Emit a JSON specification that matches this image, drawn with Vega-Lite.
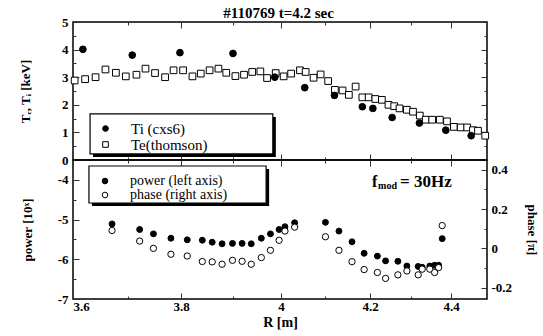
{
  "$schema": "https://vega.github.io/schema/vega-lite/v6.json",
  "padding": {"left": 18, "top": 6, "right": 0, "bottom": 0},
  "background": "white",
  "title": {"text": "#110769 t=4.2 sec", "anchor": "middle", "font": "Liberation Serif", "fontSize": 15, "fontWeight": "bold", "color": "black", "offset": -6},
  "spacing": 0,
  "bounds": "flush",
  "config": {
    "view": {"stroke": "black", "strokeWidth": 1.5},
    "axis": {"grid": false, "domain": false, "tickColor": "#333", "tickWidth": 1, "labelFont": "Liberation Serif", "labelFontWeight": "bold", "labelFontSize": 13, "labelColor": "black", "titleFont": "Liberation Serif", "titleFontWeight": "bold", "titleFontSize": 13, "titleColor": "black"},
    "legend": {"labelFont": "Liberation Serif", "labelFontSize": 15, "labelColor": "black", "symbolStrokeColor": "black", "symbolStrokeWidth": 1, "symbolSize": 32, "padding": 0, "rowPadding": 1, "symbolOffset": 0, "labelOffset": 18}
  },
  "datasets": {
    "temp": [
      {"R": 3.603, "T": 2.88, "series": "Te(thomson)"},
      {"R": 3.622, "T": 2.93, "series": "Te(thomson)"},
      {"R": 3.641, "T": 3.00, "series": "Te(thomson)"},
      {"R": 3.659, "T": 3.28, "series": "Te(thomson)"},
      {"R": 3.678, "T": 3.16, "series": "Te(thomson)"},
      {"R": 3.696, "T": 3.03, "series": "Te(thomson)"},
      {"R": 3.716, "T": 3.09, "series": "Te(thomson)"},
      {"R": 3.733, "T": 3.31, "series": "Te(thomson)"},
      {"R": 3.751, "T": 3.15, "series": "Te(thomson)"},
      {"R": 3.770, "T": 3.00, "series": "Te(thomson)"},
      {"R": 3.786, "T": 3.25, "series": "Te(thomson)"},
      {"R": 3.804, "T": 3.25, "series": "Te(thomson)"},
      {"R": 3.822, "T": 3.03, "series": "Te(thomson)"},
      {"R": 3.838, "T": 3.13, "series": "Te(thomson)"},
      {"R": 3.855, "T": 3.25, "series": "Te(thomson)"},
      {"R": 3.872, "T": 3.31, "series": "Te(thomson)"},
      {"R": 3.887, "T": 3.16, "series": "Te(thomson)"},
      {"R": 3.905, "T": 3.04, "series": "Te(thomson)"},
      {"R": 3.923, "T": 3.09, "series": "Te(thomson)"},
      {"R": 3.940, "T": 3.19, "series": "Te(thomson)"},
      {"R": 3.957, "T": 3.21, "series": "Te(thomson)"},
      {"R": 3.971, "T": 2.97, "series": "Te(thomson)"},
      {"R": 3.989, "T": 3.15, "series": "Te(thomson)"},
      {"R": 4.006, "T": 3.03, "series": "Te(thomson)"},
      {"R": 4.023, "T": 3.13, "series": "Te(thomson)"},
      {"R": 4.043, "T": 3.25, "series": "Te(thomson)"},
      {"R": 4.056, "T": 3.19, "series": "Te(thomson)"},
      {"R": 4.074, "T": 2.98, "series": "Te(thomson)"},
      {"R": 4.090, "T": 3.10, "series": "Te(thomson)"},
      {"R": 4.107, "T": 2.86, "series": "Te(thomson)"},
      {"R": 4.122, "T": 2.54, "series": "Te(thomson)"},
      {"R": 4.139, "T": 2.52, "series": "Te(thomson)"},
      {"R": 4.153, "T": 2.36, "series": "Te(thomson)"},
      {"R": 4.168, "T": 2.66, "series": "Te(thomson)"},
      {"R": 4.183, "T": 2.27, "series": "Te(thomson)"},
      {"R": 4.197, "T": 2.27, "series": "Te(thomson)"},
      {"R": 4.213, "T": 2.21, "series": "Te(thomson)"},
      {"R": 4.229, "T": 2.18, "series": "Te(thomson)"},
      {"R": 4.245, "T": 2.00, "series": "Te(thomson)"},
      {"R": 4.259, "T": 1.95, "series": "Te(thomson)"},
      {"R": 4.272, "T": 1.87, "series": "Te(thomson)"},
      {"R": 4.290, "T": 1.82, "series": "Te(thomson)"},
      {"R": 4.305, "T": 1.75, "series": "Te(thomson)"},
      {"R": 4.322, "T": 1.61, "series": "Te(thomson)"},
      {"R": 4.337, "T": 1.46, "series": "Te(thomson)"},
      {"R": 4.353, "T": 1.46, "series": "Te(thomson)"},
      {"R": 4.372, "T": 1.46, "series": "Te(thomson)"},
      {"R": 4.390, "T": 1.40, "series": "Te(thomson)"},
      {"R": 4.408, "T": 1.20, "series": "Te(thomson)"},
      {"R": 4.427, "T": 1.18, "series": "Te(thomson)"},
      {"R": 4.445, "T": 1.18, "series": "Te(thomson)"},
      {"R": 4.461, "T": 1.08, "series": "Te(thomson)"},
      {"R": 4.475, "T": 1.06, "series": "Te(thomson)"},
      {"R": 4.495, "T": 0.88, "series": "Te(thomson)"},
      {"R": 3.618, "T": 4.01, "series": "Ti (cxs6)"},
      {"R": 3.708, "T": 3.80, "series": "Ti (cxs6)"},
      {"R": 3.798, "T": 3.89, "series": "Ti (cxs6)"},
      {"R": 3.900, "T": 3.86, "series": "Ti (cxs6)"},
      {"R": 3.987, "T": 3.00, "series": "Ti (cxs6)"},
      {"R": 4.054, "T": 2.62, "series": "Ti (cxs6)"},
      {"R": 4.121, "T": 2.34, "series": "Ti (cxs6)"},
      {"R": 4.183, "T": 1.93, "series": "Ti (cxs6)"},
      {"R": 4.207, "T": 1.87, "series": "Ti (cxs6)"},
      {"R": 4.254, "T": 1.54, "series": "Ti (cxs6)"},
      {"R": 4.321, "T": 1.34, "series": "Ti (cxs6)"},
      {"R": 4.387, "T": 1.08, "series": "Ti (cxs6)"},
      {"R": 4.456, "T": 0.88, "series": "Ti (cxs6)"}
    ],
    "mod": [
      {"R": 3.671, "power": -5.11, "phase": 0.091},
      {"R": 3.722, "power": -5.25, "phase": 0.037},
      {"R": 3.748, "power": -5.36, "phase": 0.000},
      {"R": 3.781, "power": -5.47, "phase": -0.030},
      {"R": 3.812, "power": -5.51, "phase": -0.039},
      {"R": 3.841, "power": -5.52, "phase": -0.067},
      {"R": 3.860, "power": -5.57, "phase": -0.069},
      {"R": 3.879, "power": -5.61, "phase": -0.081},
      {"R": 3.899, "power": -5.60, "phase": -0.061},
      {"R": 3.919, "power": -5.60, "phase": -0.066},
      {"R": 3.938, "power": -5.61, "phase": -0.081},
      {"R": 3.959, "power": -5.47, "phase": -0.047},
      {"R": 3.978, "power": -5.36, "phase": -0.010},
      {"R": 3.996, "power": -5.25, "phase": 0.041},
      {"R": 4.009, "power": -5.18, "phase": 0.088},
      {"R": 4.031, "power": -5.08, "phase": 0.108},
      {"R": 4.101, "power": -5.07, "phase": 0.059},
      {"R": 4.131, "power": -5.29, "phase": -0.010},
      {"R": 4.160, "power": -5.56, "phase": -0.068},
      {"R": 4.187, "power": -5.85, "phase": -0.108},
      {"R": 4.218, "power": -5.92, "phase": -0.123},
      {"R": 4.238, "power": -6.04, "phase": -0.153},
      {"R": 4.268, "power": -6.05, "phase": -0.135},
      {"R": 4.290, "power": -6.17, "phase": -0.115},
      {"R": 4.318, "power": -6.18, "phase": -0.135},
      {"R": 4.328, "power": -6.20, "phase": -0.106},
      {"R": 4.347, "power": -6.17, "phase": -0.106},
      {"R": 4.359, "power": -6.15, "phase": -0.123},
      {"R": 4.369, "power": -6.15, "phase": -0.098},
      {"R": 4.378, "power": -5.48, "phase": 0.116}
    ],
    "note": [
      {"R": 4.205, "phase": 0.339}
    ],
    "tbox": [
      {"R1": 3.631, "R2": 3.983, "T1": 0.22, "T2": 1.67}
    ],
    "pbox": [
      {"R1": 3.629, "R2": 3.969, "P1": -4.583, "P2": -3.651}
    ]
  },
  "resolve": {"scale": {"fill": "independent", "shape": "independent", "stroke": "independent", "x": "independent"}, "legend": {"fill": "independent", "shape": "independent", "stroke": "independent"}},
  "vconcat": [
    {
      "width": 414,
      "height": 138,
      "layer": [
        {
          "data": {"name": "tbox"},
          "mark": {"type": "rect", "fill": "black", "xOffset": 3, "x2Offset": 3, "yOffset": 3, "y2Offset": 3},
          "encoding": {
            "x": {"field": "R1", "type": "quantitative", "axis": null}, "x2": {"field": "R2"},
            "y": {"field": "T1", "type": "quantitative", "axis": null}, "y2": {"field": "T2"}
          }
        },
        {
          "data": {"name": "tbox"},
          "mark": {"type": "rect", "fill": "white", "stroke": "black", "strokeWidth": 1.2},
          "encoding": {
            "x": {"field": "R1", "type": "quantitative", "axis": null}, "x2": {"field": "R2"},
            "y": {"field": "T1", "type": "quantitative", "axis": null}, "y2": {"field": "T2"}
          }
        },
        {
          "data": {"name": "temp"},
          "mark": {"type": "point", "strokeWidth": 1, "opacity": 1, "size": 45},
          "encoding": {
            "x": {"field": "R", "type": "quantitative",
              "scale": {"domain": [3.6, 3.7, 3.8, 3.9, 4.0, 4.1, 4.2, 4.3, 4.4, 4.5], "range": [0, 55, 108, 160, 208, 252, 297, 338, 378, 414], "nice": false, "zero": false},
              "axis": {"orient": "bottom", "title": null, "labels": false, "values": [3.6, 3.7, 3.8, 3.9, 4.0, 4.1, 4.2, 4.3, 4.4],
                "tickSize": {"condition": {"test": "abs(datum.value*5 - round(datum.value*5)) < 0.001", "value": -6}, "value": -3}}},
            "y": {"field": "T", "type": "quantitative",
              "scale": {"domain": [0, 5], "nice": false, "zero": false},
              "axis": {"orient": "left", "title": "Tₑ, Tᵢ [keV]", "titlePadding": 29, "values": [0, 0.5, 1, 1.5, 2, 2.5, 3, 3.5, 4, 4.5, 5],
                "labelExpr": "datum.value % 1 == 0 ? '' + datum.value : ''", "labelPadding": 11,
                "tickSize": {"condition": {"test": "datum.value % 1 == 0", "value": -6}, "value": -3}}},
            "shape": {"field": "series", "type": "nominal", "scale": {"domain": ["Ti (cxs6)", "Te(thomson)"], "range": ["circle", "square"]},
              "legend": {"title": null, "orient": "none", "legendX": 25, "legendY": 99, "rowPadding": -1}},
            "fill": {"field": "series", "type": "nominal", "scale": {"domain": ["Ti (cxs6)", "Te(thomson)"], "range": ["black", "white"]},
              "legend": {"title": null, "orient": "none", "legendX": 25, "legendY": 99, "rowPadding": -1}},
            "stroke": {"field": "series", "type": "nominal", "scale": {"domain": ["Ti (cxs6)", "Te(thomson)"], "range": ["black", "black"]},
              "legend": {"title": null, "orient": "none", "legendX": 25, "legendY": 99, "rowPadding": -1}}
          }
        },
        {
          "data": {"name": "temp"},
          "mark": {"type": "point", "opacity": 0},
          "encoding": {
            "x": {"field": "R", "type": "quantitative",
              "axis": {"orient": "top", "title": null, "labels": false, "values": [3.6, 3.7, 3.8, 3.9, 4.0, 4.1, 4.2, 4.3, 4.4],
                "tickSize": {"condition": {"test": "abs(datum.value*5 - round(datum.value*5)) < 0.001", "value": -6}, "value": -3}}},
            "y": {"field": "T", "type": "quantitative",
              "axis": {"orient": "right", "title": null, "labels": false, "values": [0, 0.5, 1, 1.5, 2, 2.5, 3, 3.5, 4, 4.5, 5],
                "tickSize": {"condition": {"test": "datum.value % 1 == 0", "value": -6}, "value": -3}}}
          }
        }
      ],
      "resolve": {"axis": {"x": "independent", "y": "independent"}}
    },
    {
      "width": 414,
      "height": 139,
      "layer": [
        {
          "data": {"name": "pbox"},
          "mark": {"type": "rect", "fill": "black", "xOffset": 3, "x2Offset": 3, "yOffset": 3, "y2Offset": 3},
          "encoding": {
            "x": {"field": "R1", "type": "quantitative", "axis": null}, "x2": {"field": "R2"},
            "y": {"field": "P1", "type": "quantitative", "scale": {"domain": [-7, -3.5], "nice": false, "zero": false}, "axis": null}, "y2": {"field": "P2"}
          }
        },
        {
          "data": {"name": "pbox"},
          "mark": {"type": "rect", "fill": "white", "stroke": "black", "strokeWidth": 1.2},
          "encoding": {
            "x": {"field": "R1", "type": "quantitative", "axis": null}, "x2": {"field": "R2"},
            "y": {"field": "P1", "type": "quantitative", "scale": {"domain": [-7, -3.5], "nice": false, "zero": false}, "axis": null}, "y2": {"field": "P2"}
          }
        },
        {
          "data": {"name": "mod"},
          "mark": {"type": "point", "size": 35, "strokeWidth": 1, "opacity": 1},
          "encoding": {
            "x": {"field": "R", "type": "quantitative",
              "scale": {"domain": [3.6, 3.7, 3.8, 3.9, 4.0, 4.1, 4.2, 4.3, 4.4, 4.5], "range": [0, 55, 108, 160, 208, 252, 297, 338, 378, 414], "nice": false, "zero": false},
              "axis": {"orient": "bottom", "title": "R [m]", "titleFontSize": 14, "titlePadding": 2, "labelPadding": 7, "values": [3.6, 3.7, 3.8, 3.9, 4.0, 4.1, 4.2, 4.3, 4.4],
                "labelExpr": "abs(datum.value*5 - round(datum.value*5)) < 0.001 ? format(datum.value, '~g') : ''",
                "tickSize": {"condition": {"test": "abs(datum.value*5 - round(datum.value*5)) < 0.001", "value": -6}, "value": -3}}},
            "y": {"field": "power", "type": "quantitative",
              "scale": {"domain": [-7, -3.5], "nice": false, "zero": false},
              "axis": {"orient": "left", "title": "power [10ˣ]", "titlePadding": 23, "labelPadding": 11, "values": [-7, -6.5, -6, -5.5, -5, -4.5, -4],
                "labelExpr": "datum.value % 1 == 0 ? '-' + abs(datum.value) : ''",
                "tickSize": {"condition": {"test": "datum.value % 1 == 0", "value": -6}, "value": -3}}},
            "fill": {"datum": "power (left axis)", "type": "nominal", "scale": {"domain": ["power (left axis)", "phase (right axis)"], "range": ["black", "white"]},
              "legend": {"title": null, "orient": "none", "legendX": 25, "legendY": 14, "labelFontSize": 14, "rowPadding": -3, "symbolType": "circle", "encode": {"symbols": {"update": {"stroke": {"value": "black"}, "strokeWidth": {"value": 1}}}}}},
            "stroke": {"value": "black"}
          }
        },
        {
          "data": {"name": "mod"},
          "mark": {"type": "point", "size": 40, "strokeWidth": 1, "opacity": 1},
          "encoding": {
            "x": {"field": "R", "type": "quantitative",
              "axis": {"orient": "top", "title": null, "labels": false, "values": [3.6, 3.7, 3.8, 3.9, 4.0, 4.1, 4.2, 4.3, 4.4],
                "tickSize": {"condition": {"test": "abs(datum.value*5 - round(datum.value*5)) < 0.001", "value": -6}, "value": -3}}},
            "y": {"field": "phase", "type": "quantitative",
              "scale": {"domain": [-0.258, 0.45], "nice": false, "zero": false},
              "axis": {"orient": "right", "title": "phase [π]", "titlePadding": 13, "labelPadding": 10, "values": [-0.2, -0.1, 0, 0.1, 0.2, 0.3, 0.4],
                "labelExpr": "abs(datum.value*5 - round(datum.value*5)) < 0.001 ? (datum.value < 0 ? '-' + abs(datum.value) : '' + datum.value) : ''",
                "tickSize": {"condition": {"test": "abs(datum.value*5 - round(datum.value*5)) < 0.001", "value": -6}, "value": -3}}},
            "fill": {"datum": "phase (right axis)", "type": "nominal"},
            "stroke": {"value": "black"}
          }
        },
        {
          "data": {"name": "note"},
          "mark": {"type": "text", "align": "left", "baseline": "middle", "font": "Liberation Serif", "fontWeight": "bold", "fontSize": 16, "color": "black"},
          "encoding": {"x": {"field": "R", "type": "quantitative", "axis": null}, "y": {"field": "phase", "type": "quantitative", "scale": {"domain": [-0.258, 0.45], "nice": false, "zero": false}, "axis": null}, "text": {"value": "f"}}
        },
        {
          "data": {"name": "note"},
          "mark": {"type": "text", "align": "left", "baseline": "middle", "font": "Liberation Serif", "fontWeight": "bold", "fontSize": 10, "dx": 6, "dy": 4, "color": "black"},
          "encoding": {"x": {"field": "R", "type": "quantitative", "axis": null}, "y": {"field": "phase", "type": "quantitative", "scale": {"domain": [-0.258, 0.45], "nice": false, "zero": false}, "axis": null}, "text": {"value": "mod"}}
        },
        {
          "data": {"name": "note"},
          "mark": {"type": "text", "align": "left", "baseline": "middle", "font": "Liberation Serif", "fontWeight": "bold", "fontSize": 17, "dx": 28, "color": "black"},
          "encoding": {"x": {"field": "R", "type": "quantitative", "axis": null}, "y": {"field": "phase", "type": "quantitative", "scale": {"domain": [-0.258, 0.45], "nice": false, "zero": false}, "axis": null}, "text": {"value": "= 30Hz"}}
        }
      ],
      "resolve": {"scale": {"y": "independent"}, "axis": {"x": "independent", "y": "independent"}}
    }
  ]
}
